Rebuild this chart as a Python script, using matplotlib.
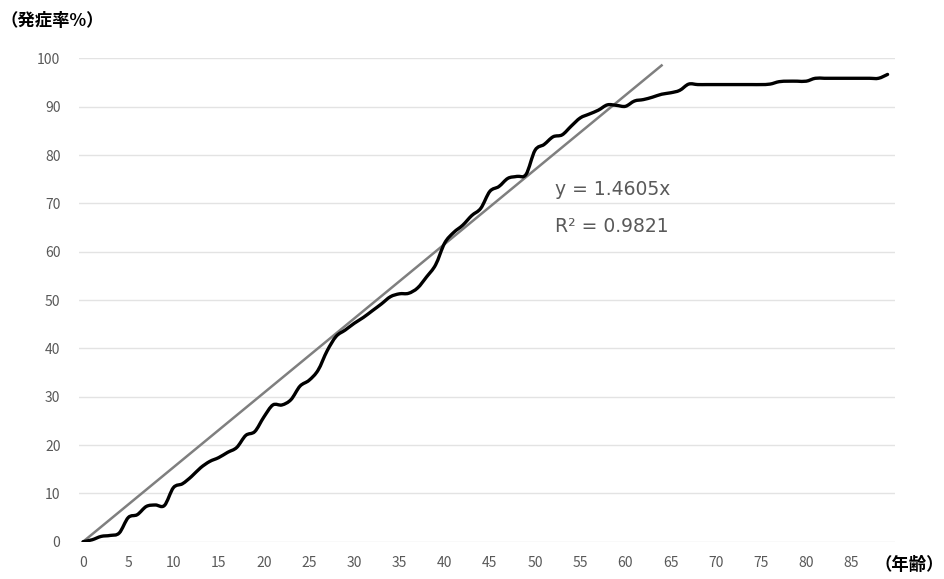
#!/usr/bin/env python3
# -*- coding: utf-8 -*-
"""Onset rate vs. age, with a linear trend line through the origin."""

import numpy as np
import matplotlib
matplotlib.use("Agg")
import matplotlib.pyplot as plt
from matplotlib.path import Path
from matplotlib.patches import PathPatch

plt.rcParams["font.family"] = ["Noto Sans CJK JP", "DejaVu Sans"]

# ====== Data ======
AGES = list(range(0, 90))
ONSET_RATE = [
    0.0, 0.4, 1.1, 1.3, 1.8, 5.0, 5.6, 7.3, 7.6, 7.5,        # 0-9
    11.2, 12.0, 13.5, 15.3, 16.6, 17.4, 18.5, 19.5, 22.0, 22.8,  # 10-19
    25.8, 28.3, 28.3, 29.4, 32.2, 33.4, 35.5, 39.5, 42.5, 43.8,  # 20-29
    45.2, 46.4, 47.8, 49.2, 50.7, 51.3, 51.4, 52.5, 54.8, 57.3,  # 30-39
    61.8, 64.0, 65.5, 67.5, 69.0, 72.5, 73.5, 75.2, 75.6, 76.0,  # 40-49
    81.0, 82.2, 83.8, 84.2, 86.0, 87.7, 88.5, 89.3, 90.4, 90.3,  # 50-59
    90.1, 91.2, 91.5, 92.0, 92.6, 92.9, 93.4, 94.7, 94.6, 94.6,  # 60-69
    94.6, 94.6, 94.6, 94.6, 94.6, 94.6, 94.7, 95.2, 95.3, 95.3,  # 70-79
    95.3, 95.9, 95.9, 95.9, 95.9, 95.9, 95.9, 95.9, 95.9, 96.7,  # 80-89
]
TREND_SLOPE = 1.54        # slope of the drawn trend line (as it appears on the axes)
TREND_END_AGE = 64        # trend line is drawn from age 0 up to here
TREND_TEXT = ["y = 1.4605x", "R² = 0.9821"]
X_TICKS = list(range(0, 90, 5))
Y_TICKS = list(range(0, 101, 10))
Y_LABEL = "（発症率%）"
X_LABEL = "（年齢）"
# ==========================================

GRAY_TEXT = "#595959"
GRID = "#e3e3e3"


def smooth_path(x, y, tension=1 / 6):
    """Cubic Bezier path through the points (Excel-like 'smoothed line')."""
    p = np.column_stack([x, y]).astype(float)
    n = len(p)
    verts = [p[0]]
    codes = [Path.MOVETO]
    for i in range(n - 1):
        p0 = p[max(i - 1, 0)]
        p1 = p[i]
        p2 = p[i + 1]
        p3 = p[min(i + 2, n - 1)]
        c1 = p1 + (p2 - p0) * tension
        c2 = p2 - (p3 - p1) * tension
        verts += [c1, c2, p2]
        codes += [Path.CURVE4] * 3
    return Path(np.array(verts), codes)


def main():
    fig = plt.figure(figsize=(9.44, 5.79), dpi=100)
    ax = fig.add_axes([0.0832, 0.0644, 0.8647, 0.8346])

    for y in Y_TICKS:
        ax.axhline(y, color=GRID, linewidth=1.0, zorder=0)

    # trend line
    tx = np.array([0, TREND_END_AGE], dtype=float)
    ax.plot(tx, TREND_SLOPE * tx, color="#7f7f7f", linewidth=1.8, zorder=2)

    # data (smoothed line)
    patch = PathPatch(smooth_path(AGES, ONSET_RATE), facecolor="none",
                      edgecolor="black", linewidth=2.4, joinstyle="round",
                      capstyle="round", zorder=3)
    ax.add_patch(patch)

    ax.text(52.2, 72.8, TREND_TEXT[0], fontsize=13.5, color=GRAY_TEXT,
            va="center", ha="left", family=["DejaVu Sans"])
    ax.text(52.2, 65.3, TREND_TEXT[1], fontsize=13.5, color=GRAY_TEXT,
            va="center", ha="left", family=["DejaVu Sans"])

    ax.set_xlim(-0.5, 89.8)
    ax.set_ylim(0, 100)
    ax.set_xticks(X_TICKS)
    ax.set_yticks(Y_TICKS)
    ax.tick_params(axis="both", length=0, labelsize=10, labelcolor=GRAY_TEXT)
    ax.tick_params(axis="y", pad=13)
    ax.tick_params(axis="x", pad=10)
    for s in ax.spines.values():
        s.set_visible(False)

    fig.text(0.0, 0.963, Y_LABEL, fontsize=12.5, fontweight="bold",
             ha="left", va="center")
    fig.text(1.0, 0.024, X_LABEL, fontsize=12.5, fontweight="bold",
             ha="right", va="center")

    fig.savefig("out.png", dpi=100)


if __name__ == "__main__":
    main()
